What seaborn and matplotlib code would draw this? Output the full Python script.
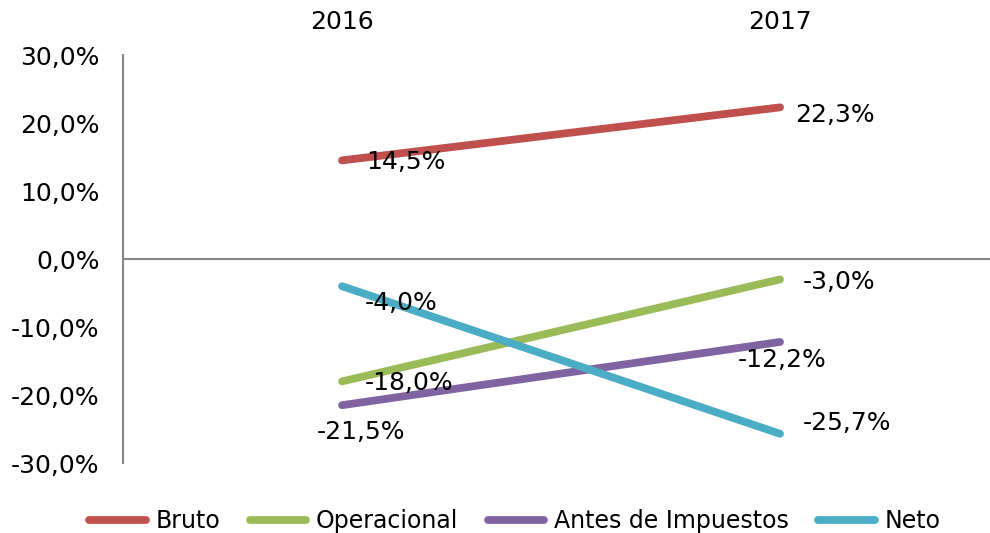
import matplotlib
matplotlib.use("Agg")
import matplotlib.pyplot as plt
import seaborn as sns
import pandas as pd

years = ["2016", "2017"]
series = ["Bruto", "Operacional", "Antes de Impuestos", "Neto"]
bruto = [14.5, 22.3]
operacional = [-18.0, -3.0]
antes = [-21.5, -12.2]
neto = [-4.0, -25.7]
colors = ["#C0504D", "#9BBB59", "#8064A2", "#4BACC6"]
yticks = [-30, -20, -10, 0, 10, 20, 30]

values = [bruto, operacional, antes, neto]
rows = []
for s, vals in zip(series, values):
    for i, v in enumerate(vals):
        rows.append({"pos": i, "serie": s, "valor": v})
df = pd.DataFrame(rows)

sns.set_theme(style="white")
plt.rcParams["font.family"] = ["DejaVu Sans"]
plt.rcParams["text.color"] = "black"
FS = 18
LFS = 17
LW = 5.6

fig = plt.figure(figsize=(9.9, 5.33), dpi=100)
ax = fig.add_axes([123/990, 70/533, 876/990, 408/533])

sns.lineplot(data=df, x="pos", y="valor", hue="serie", hue_order=series,
             palette=colors, linewidth=LW, ax=ax, legend=True)
for ln in ax.get_lines():
    ln.set_solid_capstyle("round")

ax.set_xlim(-0.5, 1.5)
ax.set_ylim(-30, 30)
ax.set_yticks(yticks)
ax.set_yticklabels([f"{t:.1f}".replace(".", ",") + "%" for t in yticks], fontsize=FS)
ax.set_xticks([0, 1])
ax.set_xticklabels(years, fontsize=FS)
ax.xaxis.tick_top()
ax.tick_params(axis="x", length=0, pad=15, labelcolor="black")
ax.tick_params(axis="y", length=0, pad=17, labelcolor="black")
ax.set_xlabel("")
ax.set_ylabel("")
for sp in ["top", "right", "bottom"]:
    ax.spines[sp].set_visible(False)
ax.spines["left"].set_color("#868686")
ax.spines["left"].set_linewidth(1.5)
ax.axhline(0, color="#868686", linewidth=1.5, zorder=1)

def fmt(v):
    return f"{v:.1f}".replace(".", ",") + "%"

# label offsets in pixels (dx, dy, ha)
offs = {
    ("Bruto", 0): (24, -2, "left"),
    ("Bruto", 1): (15, -8, "left"),
    ("Operacional", 0): (23, -2, "left"),
    ("Operacional", 1): (23, -3, "left"),
    ("Antes de Impuestos", 0): (19, -27, "center"),
    ("Antes de Impuestos", 1): (2, -18, "center"),
    ("Neto", 0): (23, -17, "left"),
    ("Neto", 1): (23, 11, "left"),
}
for s, vals in zip(series, values):
    for i, v in enumerate(vals):
        dx, dy, ha = offs[(s, i)]
        ax.annotate(fmt(v), (i, v), xytext=(dx, dy), textcoords="offset pixels",
                    ha=ha, va="center", fontsize=FS, color="black", zorder=5)

handles, labels = ax.get_legend_handles_labels()
ax.get_legend().remove()
for h in handles:
    h.set_solid_capstyle("round")
    h.set_linewidth(LW)
fig.legend(handles, labels, loc="center", bbox_to_anchor=(0.52, 12/533),
           ncol=4, frameon=False, fontsize=LFS, handlelength=2.4,
           handletextpad=0.4, columnspacing=1.25, labelcolor="black")

fig.savefig("out.png", dpi=100, facecolor="white")
